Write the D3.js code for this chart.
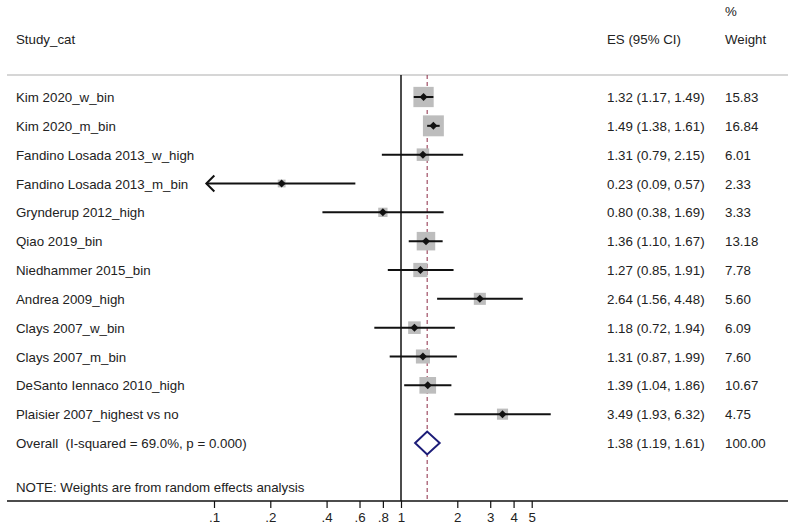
<!DOCTYPE html>
<html>
<head>
<meta charset="UTF-8" />
<title>Forest plot</title>
<script src="https://d3js.org/d3.v7.min.js"></script>
<style>
  body { margin: 0; background: #fff; }
  svg text { font-family: "Liberation Sans", Arial, sans-serif; font-size: 13.3px; fill: #222; white-space: pre; }
</style>
</head>
<body>
<svg width="795" height="529"></svg>
<script>
  // Données
  const studies = ["Kim 2020_w_bin", "Kim 2020_m_bin", "Fandino Losada 2013_w_high",
    "Fandino Losada 2013_m_bin", "Grynderup 2012_high", "Qiao 2019_bin",
    "Niedhammer 2015_bin", "Andrea 2009_high", "Clays 2007_w_bin", "Clays 2007_m_bin",
    "DeSanto Iennaco 2010_high", "Plaisier 2007_highest vs no"];
  const es  = [1.32, 1.49, 1.31, 0.23, 0.80, 1.36, 1.27, 2.64, 1.18, 1.31, 1.39, 3.49];
  const lo  = [1.17, 1.38, 0.79, 0.09, 0.38, 1.10, 0.85, 1.56, 0.72, 0.87, 1.04, 1.93];
  const hi  = [1.49, 1.61, 2.15, 0.57, 1.69, 1.67, 1.91, 4.48, 1.94, 1.99, 1.86, 6.32];
  const weights = [15.83, 16.84, 6.01, 2.33, 3.33, 13.18, 7.78, 5.60, 6.09, 7.60, 10.67, 4.75];
  const overallLabel = "Overall  (I-squared = 69.0%, p = 0.000)";
  const overall = [1.38, 1.19, 1.61, 100.00]; // es, lo, hi, weight
  const tickValues = [0.1, 0.2, 0.4, 0.6, 0.8, 1, 2, 3, 4, 5];
  const tickLabels = [".1", ".2", ".4", ".6", ".8", "1", "2", "3", "4", "5"];
  const xClipMin = 0.091;

  const svg = d3.select("svg");

  const x = d3.scaleLog().domain([0.1, 1]).range([214, 401]);
  const y = d3.scaleLinear().domain([0, studies.length]).range([97, 443]);
  const axisY = 501, headerY = 75;
  const colES = 607, colW = 725, colLabel = 16;

  // En-têtes
  svg.append("text").attr("x", colLabel).attr("y", 44).text("Study_cat");
  svg.append("text").attr("x", colES).attr("y", 44).text("ES (95% CI)");
  svg.append("text").attr("x", colW).attr("y", 16).text("%");
  svg.append("text").attr("x", colW).attr("y", 44).text("Weight");
  svg.append("line").attr("x1", 7).attr("x2", 788).attr("y1", headerY).attr("y2", headerY)
    .attr("stroke", "#c8c8c8").attr("stroke-width", 1.5);

  // Ligne de nullité et ligne de l'effet global
  svg.append("line").attr("x1", x(1)).attr("x2", x(1)).attr("y1", headerY).attr("y2", axisY)
    .attr("stroke", "#111").attr("stroke-width", 1.5);
  svg.append("line").attr("x1", x(overall[0])).attr("x2", x(overall[0]))
    .attr("y1", headerY).attr("y2", axisY)
    .attr("stroke", "#8c2a45").attr("stroke-width", 1).attr("stroke-dasharray", "4,3");

  // Études
  const rows = studies.map((s, i) => ({ s, es: es[i], lo: lo[i], hi: hi[i], w: weights[i], i }));
  const g = svg.selectAll(".row").data(rows).enter().append("g").attr("class", "row");

  g.append("rect")
    .attr("x", d => x(d.es) - 2.55 * Math.sqrt(d.w))
    .attr("y", d => y(d.i) - 2.55 * Math.sqrt(d.w))
    .attr("width", d => 5.1 * Math.sqrt(d.w))
    .attr("height", d => 5.1 * Math.sqrt(d.w))
    .attr("fill", "#bdbdbd");

  g.append("line")
    .attr("x1", d => x(Math.max(d.lo, xClipMin)))
    .attr("x2", d => x(d.hi))
    .attr("y1", d => y(d.i)).attr("y2", d => y(d.i))
    .attr("stroke", "#111").attr("stroke-width", 2);

  // Flèche quand l'IC dépasse l'axe
  g.filter(d => d.lo < xClipMin).append("path")
    .attr("d", d => {
      const tx = x(xClipMin), ty = y(d.i);
      return `M${tx + 8},${ty - 8} L${tx},${ty} L${tx + 8},${ty + 8}`;
    })
    .attr("fill", "none").attr("stroke", "#111").attr("stroke-width", 2);

  g.append("path")
    .attr("d", d => { const cx = x(d.es), cy = y(d.i);
      return `M${cx - 4},${cy} L${cx},${cy - 4} L${cx + 4},${cy} L${cx},${cy + 4}Z`; })
    .attr("fill", "#111");

  g.append("text").attr("x", colLabel).attr("y", d => y(d.i) + 5).text(d => d.s);
  g.append("text").attr("x", colES).attr("y", d => y(d.i) + 5)
    .text(d => `${d.es.toFixed(2)} (${d.lo.toFixed(2)}, ${d.hi.toFixed(2)})`);
  g.append("text").attr("x", colW).attr("y", d => y(d.i) + 5).text(d => d.w.toFixed(2));

  // Global
  const oy = y(studies.length);
  svg.append("path")
    .attr("d", `M${x(overall[1])},${oy} L${x(overall[0])},${oy - 11.5} L${x(overall[2])},${oy} L${x(overall[0])},${oy + 11.5}Z`)
    .attr("fill", "#fff").attr("stroke", "#1c1c78").attr("stroke-width", 2);
  svg.append("text").attr("x", colLabel).attr("y", oy + 5).text(overallLabel);
  svg.append("text").attr("x", colES).attr("y", oy + 5)
    .text(`${overall[0].toFixed(2)} (${overall[1].toFixed(2)}, ${overall[2].toFixed(2)})`);
  svg.append("text").attr("x", colW).attr("y", oy + 5).text(overall[3].toFixed(2));

  svg.append("text").attr("x", colLabel).attr("y", 492)
    .text("NOTE: Weights are from random effects analysis");

  // Axe
  svg.append("line").attr("x1", 7).attr("x2", 788).attr("y1", axisY).attr("y2", axisY)
    .attr("stroke", "#111").attr("stroke-width", 1.5);
  const ax = svg.append("g").attr("transform", `translate(0,${axisY})`)
    .call(d3.axisBottom(x).tickValues(tickValues).tickFormat((d, i) => tickLabels[i])
      .tickSize(7).tickPadding(5));
  ax.select(".domain").remove();
  ax.selectAll("line").attr("stroke", "#111").attr("stroke-width", 1.2);
  ax.selectAll("text").attr("font-size", 13.3).attr("font-family", "Liberation Sans, Arial, sans-serif").attr("fill", "#222");
</script>
</body>
</html>
